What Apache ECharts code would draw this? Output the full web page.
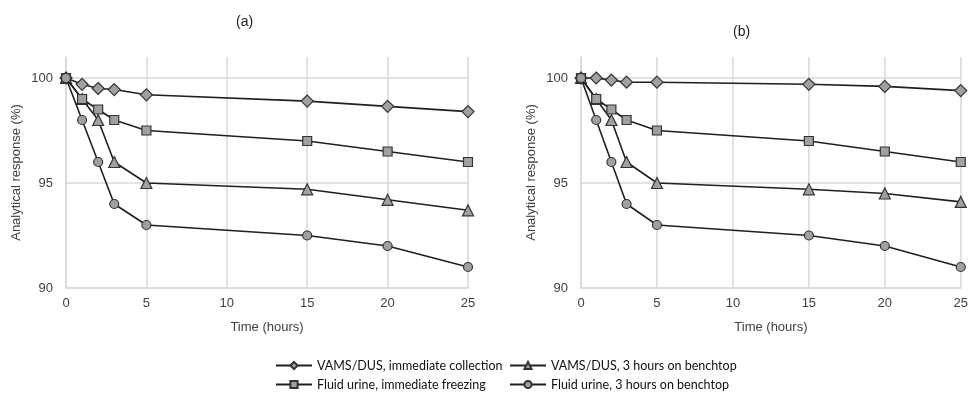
<!DOCTYPE html>
<html>
<head>
<meta charset="utf-8">
<script src="https://cdn.jsdelivr.net/npm/echarts@6/dist/echarts.min.js"></script>
<style>html,body{margin:0;padding:0;background:#fff}#c{width:971px;height:395px}</style>
</head>
<body>
<div id="c"></div>
<script>
const hours = [0, 1, 2, 3, 5, 15, 20, 25];
const seriesNames = [
  'VAMS/DUS, immediate collection',
  'VAMS/DUS, 3 hours on benchtop',
  'Fluid urine, immediate freezing',
  'Fluid urine, 3 hours on benchtop'
];
// Panel (a)
const a_vamsImmediate = [100, 99.7, 99.5, 99.45, 99.2, 98.9, 98.65, 98.4];
const a_vamsBenchtop  = [100, 99, 98, 96, 95, 94.7, 94.2, 93.7];
const a_urineFreeze   = [100, 99, 98.5, 98, 97.5, 97, 96.5, 96];
const a_urineBenchtop = [100, 98, 96, 94, 93, 92.5, 92, 91];
// Panel (b)
const b_vamsImmediate = [100, 100, 99.9, 99.8, 99.8, 99.7, 99.6, 99.4];
const b_vamsBenchtop  = [100, 99, 98, 96, 95, 94.7, 94.5, 94.1];
const b_urineFreeze   = [100, 99, 98.5, 98, 97.5, 97, 96.5, 96];
const b_urineBenchtop = [100, 98, 96, 94, 93, 92.5, 92, 91];
const yTicks = [90, 95, 100];
const panelTitles = ['(a)', '(b)'];

const symbols = ['diamond', 'triangle', 'rect', 'circle'];
const sizes = [12, 11, 9, 9];
const lineColor = '#1f1f1f';
const fillColor = '#a0a0a0';
const gridColor = '#d9d9d9';
const font = 'Liberation Sans, Arial, sans-serif';

function pairs(ys) { return hours.map((h, i) => [h, ys[i]]); }

const panels = [
  [a_vamsImmediate, a_vamsBenchtop, a_urineFreeze, a_urineBenchtop],
  [b_vamsImmediate, b_vamsBenchtop, b_urineFreeze, b_urineBenchtop]
];

const grids = [
  { left: 66, right: 503, top: 57, bottom: 107 },
  { left: 581, right: 8, top: 57, bottom: 107 }
];

const xAxes = grids.map((g, i) => ({
  type: 'value', gridIndex: i, min: 0, max: 25, interval: 5,
  name: 'Time (hours)', nameLocation: 'middle', nameGap: 33,
  nameTextStyle: { color: '#404040', fontSize: 13, fontFamily: font },
  axisLine: { show: true, lineStyle: { color: gridColor, width: 1.5 } },
  axisTick: { show: false },
  axisLabel: { color: '#404040', fontSize: 13, fontFamily: font, margin: 9 },
  splitLine: { show: true, lineStyle: { color: gridColor, width: 1.5 } }
}));

const yAxes = grids.map((g, i) => ({
  type: 'value', gridIndex: i, min: 90, max: 101, interval: 5,
  name: 'Analytical response (%)', nameLocation: 'middle', nameGap: 43,
  nameTextStyle: { color: '#404040', fontSize: 13, fontFamily: font },
  axisLine: { show: true, lineStyle: { color: gridColor, width: 1.5 } },
  axisTick: { show: false },
  axisLabel: {
    color: '#404040', fontSize: 13, fontFamily: font, margin: 13,
    showMaxLabel: false,
    formatter: v => (yTicks.indexOf(v) >= 0 ? String(v) : '')
  },
  splitLine: { show: true, showMaxLine: false, lineStyle: { color: gridColor, width: 1.5 } }
}));

const series = [];
panels.forEach((data, p) => {
  data.forEach((ys, k) => {
    series.push({
      name: seriesNames[k], type: 'line', xAxisIndex: p, yAxisIndex: p,
      data: pairs(ys), symbol: symbols[k], symbolSize: sizes[k],
      lineStyle: { color: lineColor, width: 1.6 },
      itemStyle: { color: fillColor, borderColor: '#333', borderWidth: 1.2 },
      z: 2 + k, animation: false
    });
  });
});

const legendBase = {
  orient: 'vertical', itemWidth: 36, itemHeight: 9, itemGap: 6, padding: 0,
  height: 36,
  textStyle: { fontFamily: 'Lato, sans-serif', fontSize: 12.5, color: '#111' },
  selectedMode: false
};

const option = {
  backgroundColor: '#fff',
  animation: false,
  title: [
    { text: panelTitles[0], left: 231, top: 10, textStyle: { fontFamily: font, fontSize: 14, fontWeight: 'normal', color: '#222' } },
    { text: panelTitles[1], left: 728, top: 20, textStyle: { fontFamily: font, fontSize: 14, fontWeight: 'normal', color: '#222' } }
  ],
  grid: grids,
  xAxis: xAxes,
  yAxis: yAxes,
  legend: [
    Object.assign({}, legendBase, { left: 275, top: 359, data: [seriesNames[0], seriesNames[2]] }),
    Object.assign({}, legendBase, { left: 509, top: 359, data: [seriesNames[1], seriesNames[3]] })
  ],
  series: series
};

const chart = echarts.init(document.getElementById('c'), null, { renderer: 'canvas' });
chart.setOption(option);
</script>
</body>
</html>
